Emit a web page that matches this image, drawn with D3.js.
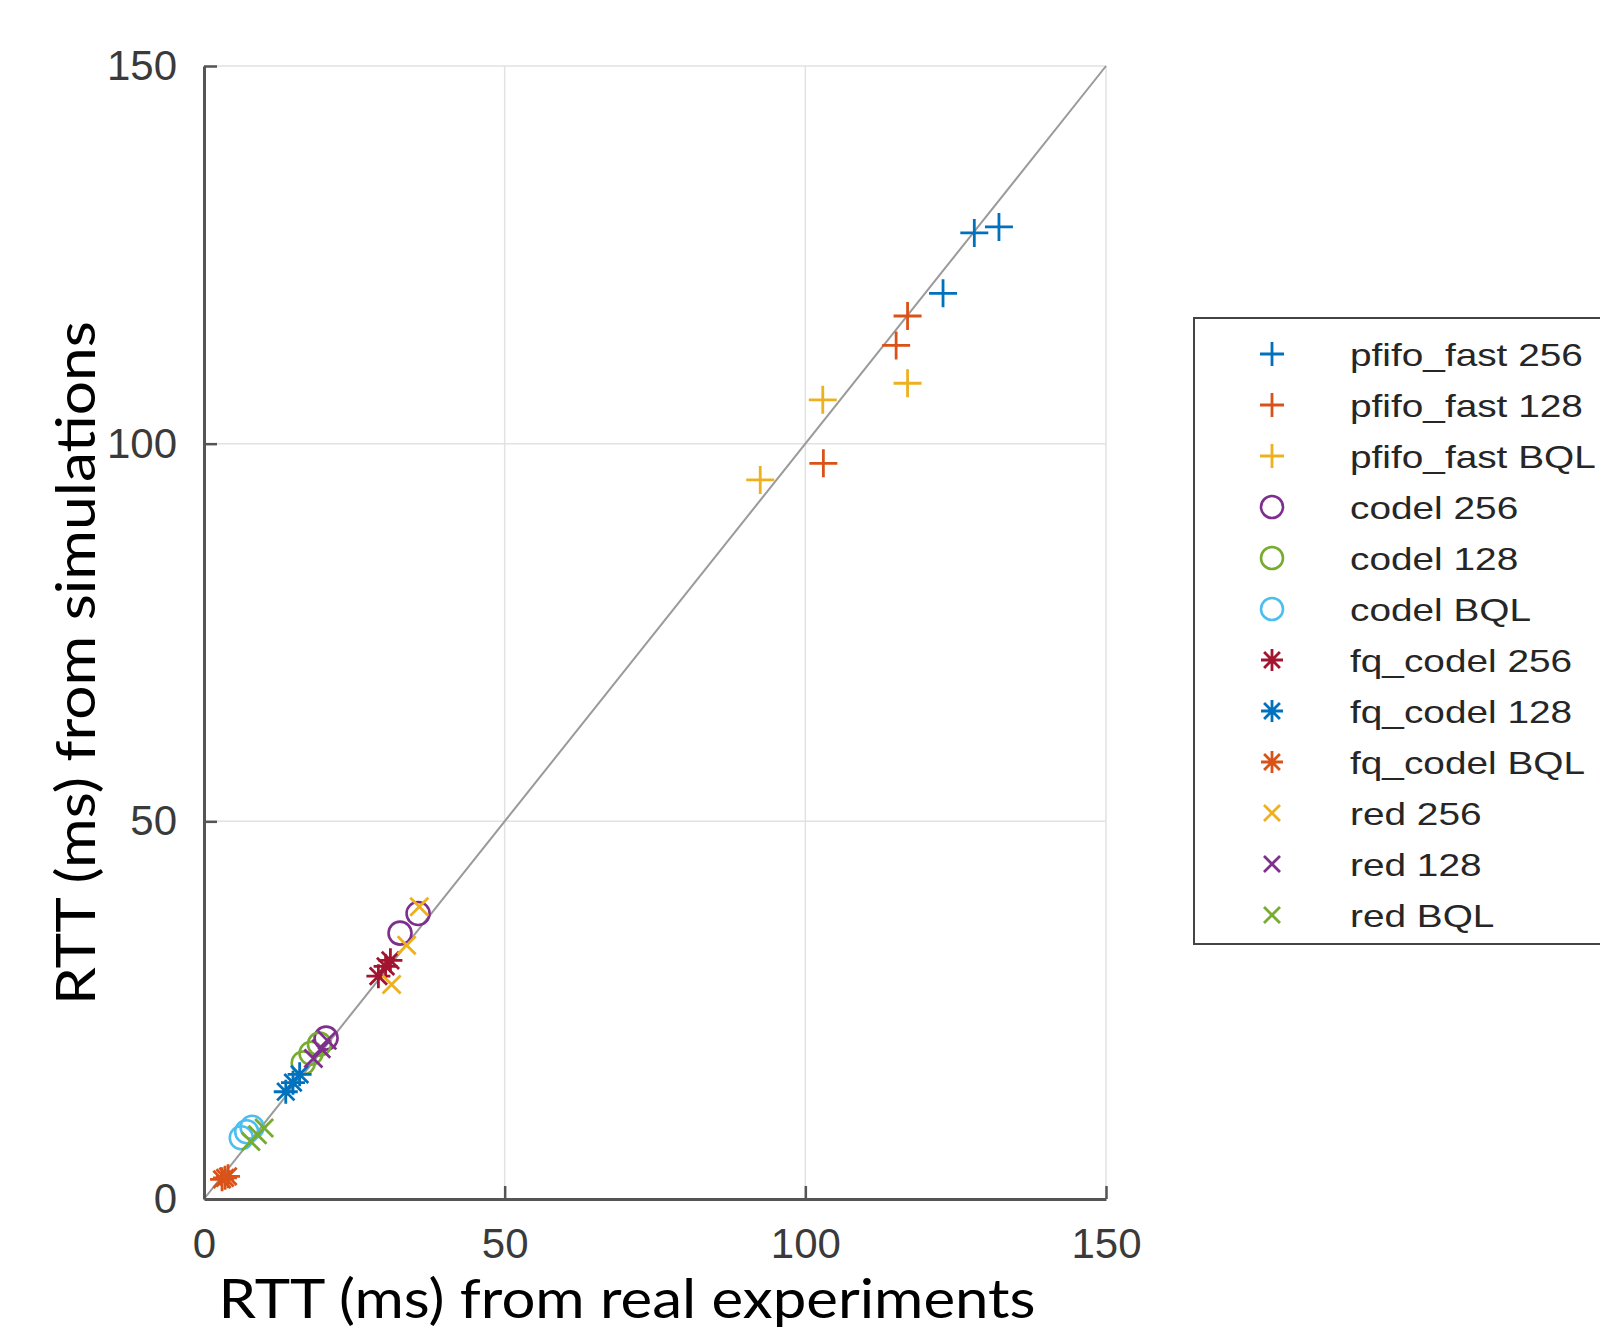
<!DOCTYPE html>
<html>
<head>
<meta charset="utf-8">
<script src="https://cdn.jsdelivr.net/npm/d3@7"></script>
<style>
  body { margin: 0; background: #fff; }
  svg { display: block; }
</style>
</head>
<body>
<script>
// series, in legend order
var seriesNames = ['pfifo_fast 256', 'pfifo_fast 128', 'pfifo_fast BQL',
  'codel 256', 'codel 128', 'codel BQL',
  'fq_codel 256', 'fq_codel 128', 'fq_codel BQL',
  'red 256', 'red 128', 'red BQL'];
var seriesColors = ['#0072BD', '#D95319', '#EDB120', '#7E2F8E', '#77AC30', '#4DBEEE',
  '#A2142F', '#0072BD', '#D95319', '#EDB120', '#7E2F8E', '#77AC30'];
var seriesMarkers = ['+', '+', '+', 'o', 'o', 'o', '*', '*', '*', 'x', 'x', 'x'];

// [real, simulated] RTT in ms
var pfifo256 = [[122.9, 119.9], [128.1, 127.9], [132.2, 128.7]];
var pfifo128 = [[103.0, 97.4], [115.1, 113.0], [117.0, 116.9]];
var pfifoBQL = [[92.5, 95.2], [102.9, 105.8], [117.0, 108.0]];
var codel256 = [[20.3, 21.3], [32.6, 35.2], [35.6, 37.8]];
var codel128 = [[16.5, 18.0], [17.8, 19.3], [19.2, 20.5]];
var codelBQL = [[6.2, 8.1], [7.1, 8.9], [8.0, 9.5]];
var fq256 = [[29.0, 29.5], [30.2, 30.8], [31.0, 31.6]];
var fq128 = [[13.6, 14.2], [14.8, 15.4], [15.9, 16.5]];
var fqBQL = [[3.0, 2.6], [3.5, 2.8], [4.0, 3.0]];
var red256 = [[31.2, 28.4], [33.7, 33.6], [35.8, 38.7]];
var red128 = [[18.2, 18.6], [19.5, 19.9], [20.5, 21.0]];
var redBQL = [[7.8, 7.6], [8.9, 8.5], [10.0, 9.4]];
var seriesData = [pfifo256, pfifo128, pfifoBQL, codel256, codel128, codelBQL,
  fq256, fq128, fqBQL, red256, red128, redBQL];

var axisTicks = [0, 50, 100, 150];
var gridTicks = [50, 100, 150];

var W = 1600, H = 1329;
var svg = d3.select('body').append('svg').attr('width', W).attr('height', H);

var x = d3.scaleLinear().domain([0, 150]).range([204, 1106]);
var y = d3.scaleLinear().domain([0, 150]).range([1199, 66]);

// grid
svg.append('g').selectAll('line.gx').data(gridTicks).enter().append('line')
  .attr('x1', function (d) { return x(d); }).attr('x2', function (d) { return x(d); })
  .attr('y1', y(0)).attr('y2', y(150))
  .style('stroke', '#e2e2e2').style('stroke-width', 1.5);
svg.append('g').selectAll('line.gy').data(gridTicks).enter().append('line')
  .attr('y1', function (d) { return y(d); }).attr('y2', function (d) { return y(d); })
  .attr('x1', x(0)).attr('x2', x(150))
  .style('stroke', '#e2e2e2').style('stroke-width', 1.5);

// y = x reference line
svg.append('line')
  .attr('x1', x(0)).attr('y1', y(0)).attr('x2', x(150)).attr('y2', y(150))
  .style('stroke', '#9a9a9a').style('stroke-width', 2);

// axes
var xAxis = d3.axisBottom(x).tickValues(axisTicks).tickSizeInner(-13).tickSizeOuter(0).tickPadding(29);
var yAxis = d3.axisLeft(y).tickValues(axisTicks).tickSizeInner(-13).tickSizeOuter(0).tickPadding(27);

var gx = svg.append('g').attr('transform', 'translate(0,' + y(0) + ')').call(xAxis);
var gy = svg.append('g').attr('transform', 'translate(' + x(0) + ',0)').call(yAxis);

[gx, gy].forEach(function (g) {
  g.select('.domain').style('stroke', '#555').style('stroke-width', 3);
  g.selectAll('.tick line').style('stroke', '#555').style('stroke-width', 2.5);
  g.selectAll('.tick text').style('font-family', '"Liberation Sans", Arial, sans-serif')
    .style('font-size', '42px').style('fill', '#3a3a3a');
});
gx.selectAll('.tick').filter(function (d) { return d === 0; }).select('line').remove();
gy.selectAll('.tick').filter(function (d) { return d === 0; }).select('line').remove();
gx.selectAll('.tick text').attr('dy', '0.71em');

// markers
function markerPath(type, s) {
  if (type === '+') return 'M' + (-s) + ',0H' + s + 'M0,' + (-s) + 'V' + s;
  if (type === 'x') return 'M' + (-s) + ',' + (-s) + 'L' + s + ',' + s + 'M' + (-s) + ',' + s + 'L' + s + ',' + (-s);
  if (type === '*') {
    var d = s * 0.72;
    return 'M' + (-s) + ',0H' + s + 'M0,' + (-s) + 'V' + s +
      'M' + (-d) + ',' + (-d) + 'L' + d + ',' + d + 'M' + (-d) + ',' + d + 'L' + d + ',' + (-d);
  }
  return null;
}
function drawMarker(g, type, color, size) {
  if (type === 'o') {
    g.append('circle').attr('r', size.o)
      .style('fill', 'none').style('stroke', color).style('stroke-width', 2.6);
  } else {
    g.append('path').attr('d', markerPath(type, size[type]))
      .style('fill', 'none').style('stroke', color).style('stroke-width', 2.8);
  }
}

var plotSize = { '+': 14, 'o': 11.5, '*': 12, 'x': 9 };
var legendSize = { '+': 12, 'o': 11, '*': 11, 'x': 8 };

var points = svg.append('g');
seriesData.forEach(function (data, i) {
  data.forEach(function (p) {
    var g = points.append('g').attr('transform', 'translate(' + x(p[0]) + ',' + y(p[1]) + ')');
    drawMarker(g, seriesMarkers[i], seriesColors[i], plotSize);
  });
});

// legend
var legend = svg.append('g');
legend.append('rect').attr('x', 1194).attr('y', 318).attr('width', 430).attr('height', 626)
  .style('fill', '#fff').style('stroke', '#444').style('stroke-width', 2);

var rowY = d3.scaleLinear().domain([0, 11]).range([354, 915]);
var labels = [];
seriesNames.forEach(function (name, i) {
  var g = legend.append('g').attr('transform', 'translate(1272,' + rowY(i) + ')');
  drawMarker(g, seriesMarkers[i], seriesColors[i], legendSize);
  var t = legend.append('text').text(name)
    .attr('dy', '0.36em')
    .style('font-family', '"Liberation Sans", Arial, sans-serif')
    .style('font-size', '32px').style('fill', '#262626');
  labels.push([t, rowY(i)]);
});
var k = 233 / labels[0][0].node().getComputedTextLength();
labels.forEach(function (l) {
  l[0].attr('transform', 'translate(1350,' + l[1] + ') scale(' + k + ',1)');
});

// axis titles
svg.append('text').text('RTT (ms) from real experiments')
  .attr('x', 627).attr('y', 1318).attr('text-anchor', 'middle')
  .attr('textLength', 817).attr('lengthAdjust', 'spacingAndGlyphs')
  .style('font-family', 'Lato, "Open Sans", sans-serif').style('font-size', '54px').style('fill', '#000');

svg.append('text').text('RTT (ms) from simulations')
  .attr('transform', 'translate(95,663) rotate(-90)').attr('text-anchor', 'middle')
  .attr('textLength', 684).attr('lengthAdjust', 'spacingAndGlyphs')
  .style('font-family', 'Lato, "Open Sans", sans-serif').style('font-size', '54px').style('fill', '#000');
</script>
</body>
</html>
